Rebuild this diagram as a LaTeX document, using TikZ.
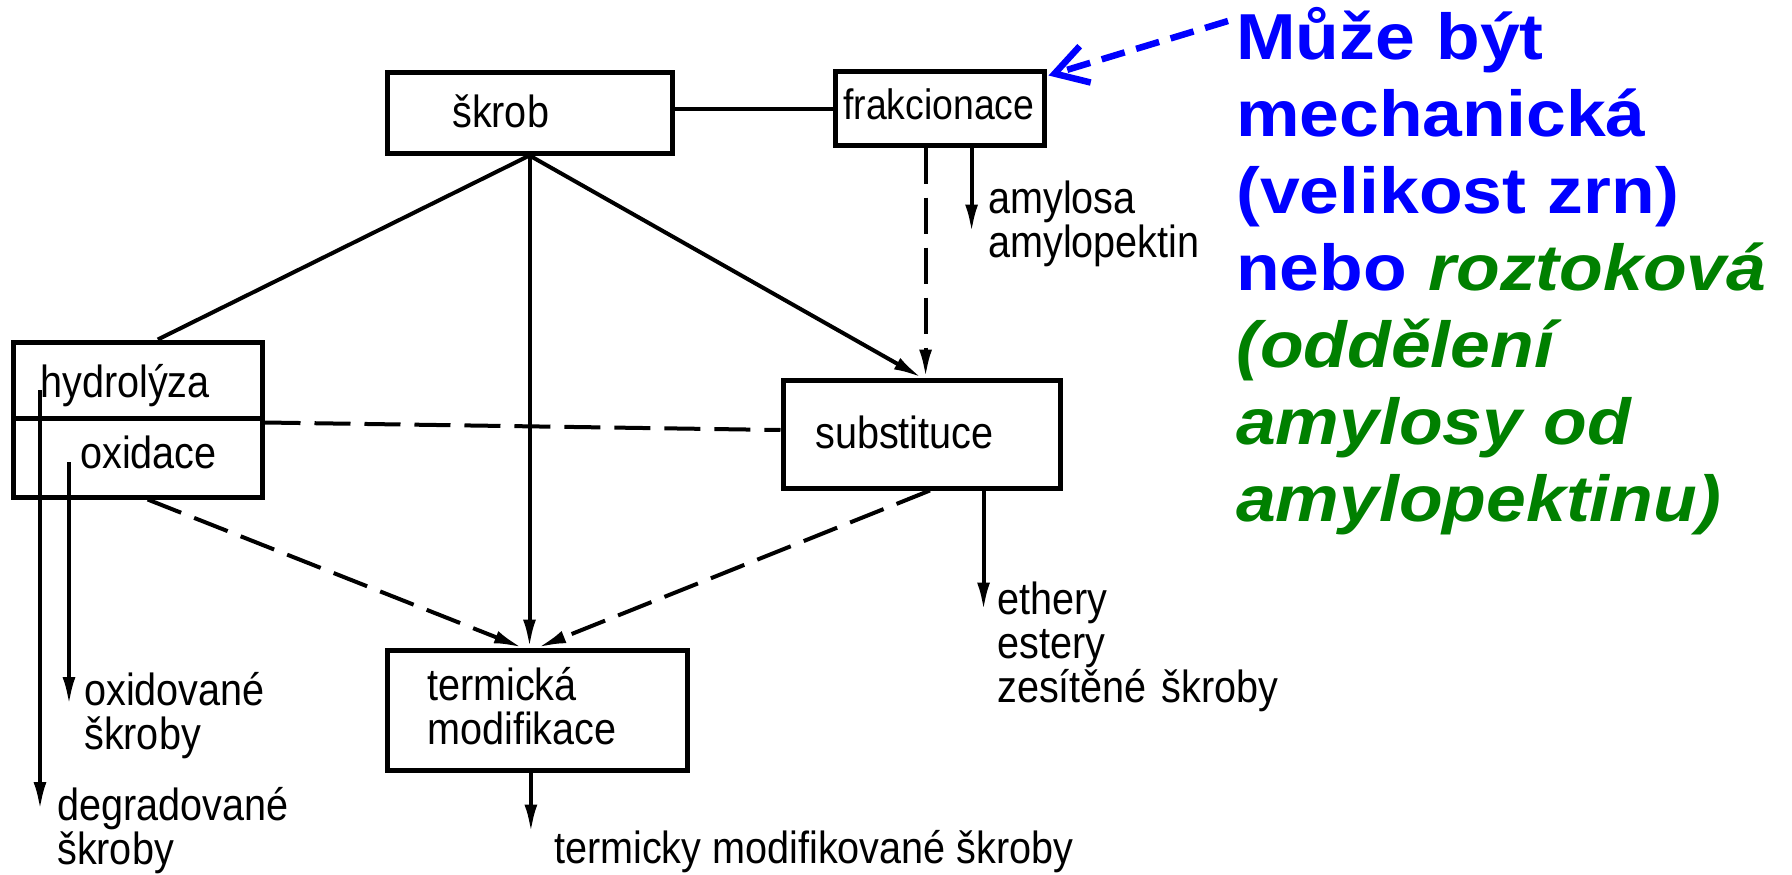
\documentclass[tikz,border=0pt]{standalone}
\usepackage{fontspec}
\usetikzlibrary{arrows.meta,calc}
\newfontfamily\lblfont[FakeStretch=0.88]{Liberation Sans}
\newfontfamily\notefont[FakeStretch=1.1]{Liberation Sans}
\definecolor{noteblue}{RGB}{0,0,255}
\definecolor{notegreen}{RGB}{0,128,0}
\begin{document}
\begin{tikzpicture}[x=1pt,y=-1pt,
  box/.style={draw, line width=5pt, rectangle, inner sep=0pt},
  lbl/.style={inner sep=0pt, anchor=base west, font=\lblfont\fontsize{45}{44}\selectfont},
  mlbl/.style={lbl, align=left, text width=#1},
  conn/.style={line width=4pt},
  dashedconn/.style={conn, dash pattern=on 36pt off 14pt},
  arr/.style={-{Latex[length=28pt,width=13pt]}},
  bluearrow/.style={line width=6.5pt, draw=noteblue, dash pattern=on 24pt off 12pt,
    -{Straight Barb[length=32pt,width=38pt,line width=6.5pt]}}
]
\path[fill=white] (0,0) rectangle (1792,875);
\useasboundingbox (0,0) rectangle (1792,875);

% boxes
\node[box, minimum width=285pt, minimum height=80pt] (skrob) at (529.5,113) {};
\node[box, minimum width=209pt, minimum height=73pt] (frak) at (939.5,108.5) {};
\node[box, minimum width=249pt, minimum height=76pt] (hydro) at (137.5,380) {};
\node[box, minimum width=249pt, minimum height=79pt] (oxid) at (137.5,457.5) {};
\node[box, minimum width=277pt, minimum height=108pt] (subst) at (921.5,434) {};
\node[box, minimum width=300pt, minimum height=120pt] (term) at (537,710) {};

% box texts
\node[lbl] (skrobT) at (452,127) {škrob};
\node[lbl, font=\lblfont\fontsize{42.5}{44}\selectfont] (frakT) at (843,120) {frakcionace};
\node[lbl] (hydroT) at (40,397) {hydrolýza};
\node[lbl] (oxidT) at (80,468) {oxidace};
\node[lbl] (substT) at (815,448) {substituce};
\node[mlbl=250pt] (termT) at (427,700) {termická\\modifikace};

% product texts
\node[mlbl=300pt] (amyT) at (988,213) {amylosa\\amylopektin};
\node[mlbl=400pt] (ethT) at (997,614) {ethery\\estery\\zesítěné škroby};
\node[lbl] (termOut) at (554,863) {termicky modifikované škroby};
\node[mlbl=250pt] (oxidOut) at (84,705) {oxidované\\škroby};
\node[mlbl=300pt] (degrOut) at (57,820) {degradované\\škroby};

% note
\node[inner sep=0pt, anchor=base west, align=left, text width=560pt,
  font=\notefont\bfseries\fontsize{65}{77}\selectfont, text=noteblue] (note) at (1236,60)
  {Může být\\mechanická\\(velikost zrn)\\nebo {\color{notegreen}\itshape roztoková}\\{\color{notegreen}\itshape (oddělení}\\{\color{notegreen}\itshape amylosy od}\\{\color{notegreen}\itshape amylopektinu)}};
\coordinate (noteTail) at (1228,21);

% connectors
\draw[conn] (skrob.east |- frak.west) -- (frak.west);
\draw[conn] (skrob.south) -- ($(hydro.north west)!0.58!(hydro.north east)$);
\draw[conn,arr] (skrob.south) -- (skrob.south |- term.north);
\draw[conn,arr] (skrob.south) -- (subst.north);
\draw[dashedconn,arr] ($(frak.south west)!0.435!(frak.south east)$) coordinate (fd) -- (fd |- subst.north);
\draw[conn,arr] ($(frak.south west)!0.65!(frak.south east)$) -- ++(0,85);
\draw[dashedconn] ($(oxid.north east)+(0,7)$) -- ($(subst.west)+(0,-4)$);
\draw[dashedconn,arr] ($(oxid.south west)!0.54!(oxid.south east)$) -- ($(term.north)+(-15,0)$);
\draw[dashedconn,arr] ($(subst.south west)!0.53!(subst.south east)$) -- ($(term.north)+(1,0)$);
\draw[conn,arr] ($(subst.south west)!0.72!(subst.south east)$) -- ++(0,120);
\draw[conn,arr] ($(term.south west)!0.48!(term.south east)$) -- ++(0,60);
\draw[conn,arr] ($(hydro.west)+(29.5,10)$) -- ++(0,420);
\draw[conn,arr] ($(oxid.west)+(58.5,4.5)$) -- ++(0,243);
\draw[bluearrow] (noteTail) -- ($(frak.north east)+(2,6)$);
\end{tikzpicture}
\end{document}
